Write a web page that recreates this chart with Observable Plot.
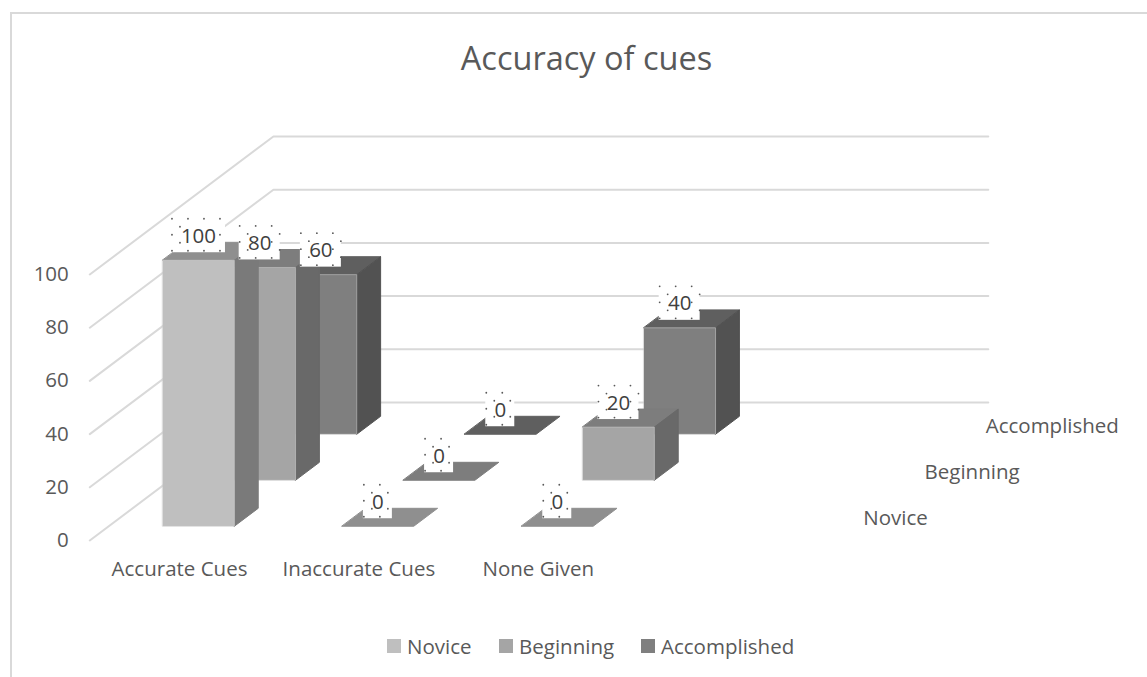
<!DOCTYPE html>
<html>
<head>
<meta charset="utf-8">
<script src="https://cdn.jsdelivr.net/npm/d3@7"></script>
<script src="https://cdn.jsdelivr.net/npm/@observablehq/plot@0.6"></script>
<style>
  html, body { margin: 0; padding: 0; background: #fff; }
  #page { position: relative; width: 1147px; height: 677px; overflow: hidden; font-family: "Open Sans", sans-serif; color: #595959; }
  #frame { position: absolute; left: 10px; top: 12px; right: 0; bottom: 0; border-left: 2px solid #d9d9d9; border-top: 2px solid #d9d9d9; }
  #title { position: absolute; left: 0; top: 0; width: 1173px; height: 100px; line-height: 116px; text-align: center; font-size: 32.5px; color: #595959; }
  #chart { position: absolute; left: 0; top: 100px; }
  #legend { position: absolute; left: 0; top: 620px; width: 1147px; height: 57px; font-size: 20.5px; }
  #legend span { position: absolute; top: 13px; line-height: 26px; white-space: nowrap; }
  #legend i { position: absolute; top: 19px; width: 14px; height: 14px; }
  svg text { font-family: "Open Sans", sans-serif; }
</style>
</head>
<body>
<div id="page">
  <div id="frame"></div>
  <div id="title">Accuracy of cues</div>
  <div id="chart"></div>
  <div id="legend"></div>
</div>
<script>
const categories = ["Accurate Cues", "Inaccurate Cues", "None Given"];
const seriesNames = ["Novice", "Beginning", "Accomplished"];
const novice = [100, 0, 0];
const beginning = [80, 0, 20];
const accomplished = [60, 0, 40];
const valueTicks = [0, 20, 40, 60, 80, 100];

const frontColors = ["#bfbfbf", "#a5a5a5", "#7f7f7f"];
const topColors = ["#8f8f8f", "#7d7d7d", "#5f5f5f"];
const sideColors = ["#7a7a7a", "#696969", "#525252"];

// Oblique projection of (category, series depth, value) onto the chart scales.
const catPx = 179.4, valPx = 2.66;
const kx = 61.2 / catPx, ky = 46 / valPx;
const X = (c, z) => c + z * kx;
const Y = (v, z) => v + z * ky;
const pt = (c, z, v) => ({x: X(c, z), y: Y(v, z)});
const wallEnd = 3.985;

const c0 = 0.3, c1 = 0.7, z0 = 0.31, z1 = 0.7;
const seriesValues = [novice, beginning, accomplished];

const face = (pts, fill, stroke, strokeOpacity = 1) =>
  Plot.line(pts, {x: "x", y: "y", fill, stroke, strokeOpacity, strokeWidth: 1, curve: "linear-closed"});

const marks = [];

// wall gridlines
for (const v of valueTicks) {
  marks.push(Plot.line([pt(0, 0, v), pt(0, 3, v), pt(wallEnd, 3, v)], {x: "x", y: "y", stroke: "#d9d9d9", strokeWidth: 2}));
}

// bars, back to front
for (let s = 2; s >= 0; s--) {
  seriesValues[s].forEach((v, i) => {
    const a = i + c0, b = i + c1, n = s + z0, f = s + z1;
    marks.push(face([pt(a, n, v), pt(b, n, v), pt(b, f, v), pt(a, f, v)], topColors[s], topColors[s]));
    if (v > 0) {
      marks.push(face([pt(b, n, 0), pt(b, f, 0), pt(b, f, v), pt(b, n, v)], sideColors[s], sideColors[s]));
      marks.push(face([pt(a, n, 0), pt(b, n, 0), pt(b, n, v), pt(a, n, v)], frontColors[s], "#cfcfcf", 0.5));
    }
  });
}

// data labels anchored at the front-top centre of each bar
const labels = [];
seriesValues.forEach((vals, s) => vals.forEach((v, i) => {
  labels.push({...pt(i + 0.5, s + z0, v), value: v});
}));
const labelDy = -25;
const halfW = v => (v >= 100 ? 27 : v >= 10 ? 20.5 : 14.5);
const halfH = 17.5;

for (const d of labels) {
  const w = halfW(d.value);
  marks.push(Plot.rect([d], {
    x1: "x", x2: "x", y1: "y", y2: "y", dy: labelDy, fill: "white",
    insetLeft: -w, insetRight: -w, insetTop: -halfH, insetBottom: -halfH
  }));
}
// dotted selection pattern around each label
const specks = [];
for (const d of labels) {
  const w = halfW(d.value);
  for (let r = 0; r < 5; r++) {
    for (let k = 0; -w + k * 8 <= w; k++) {
      if ((r + k) % 2) continue;
      const ox = -w + 0.5 + k * 8, oy = -halfH + r * 8 + 1;
      if (Math.abs(ox) < w - 10 && Math.abs(oy) < 12) continue;
      specks.push({x: d.x + ox / catPx, y: d.y - oy / valPx});
    }
  }
}
marks.push(Plot.dot(specks, {x: "x", y: "y", dy: labelDy, r: 0.9, fill: "#595959"}));
marks.push(Plot.text(labels, {x: "x", y: "y", dy: labelDy + 1, text: d => String(d.value), fontSize: 20.5, fill: "#404040", lineAnchor: "middle", textAnchor: "middle"}));

// series (depth) axis labels
marks.push(Plot.text(seriesNames.map((name, s) => ({...pt(wallEnd, s + 0.5, 0), name})), {
  x: "x", y: "y", text: "name", textAnchor: "start", dx: 28, dy: 1, fontSize: 20.5, fill: "#595959", lineAnchor: "middle"
}));

// axes
marks.push(Plot.axisY({ticks: valueTicks, tickSize: 0, tickPadding: 21, dy: 0, label: null, fontSize: 20.5}));
marks.push(Plot.axisX({ticks: categories.map((_, i) => i + 0.5), tickFormat: d => categories[d - 0.5], tickSize: 0, tickPadding: 21, label: null, fontSize: 20.5}));

const chart = Plot.plot({
  width: 1147,
  height: 520,
  marginLeft: 89.3,
  marginRight: 0,
  marginTop: 0,
  marginBottom: 80,
  x: {domain: [0, 4], range: [89.3, 89.3 + 4 * catPx]},
  y: {domain: [0, 100], range: [440, 440 - 100 * valPx]},
  style: {background: "transparent", color: "#595959", overflow: "visible", fontFamily: '"Open Sans", sans-serif', fontSize: "20.5px"},
  marks
});
document.getElementById("chart").appendChild(chart);

// legend
const legendPos = [[387, 407], [499, 519], [641, 661]];
const legend = document.getElementById("legend");
seriesNames.forEach((name, s) => {
  const sw = document.createElement("i");
  sw.style.left = legendPos[s][0] + "px";
  sw.style.background = frontColors[s];
  const t = document.createElement("span");
  t.style.left = legendPos[s][1] + "px";
  t.textContent = name;
  legend.append(sw, t);
});
</script>
</body>
</html>
